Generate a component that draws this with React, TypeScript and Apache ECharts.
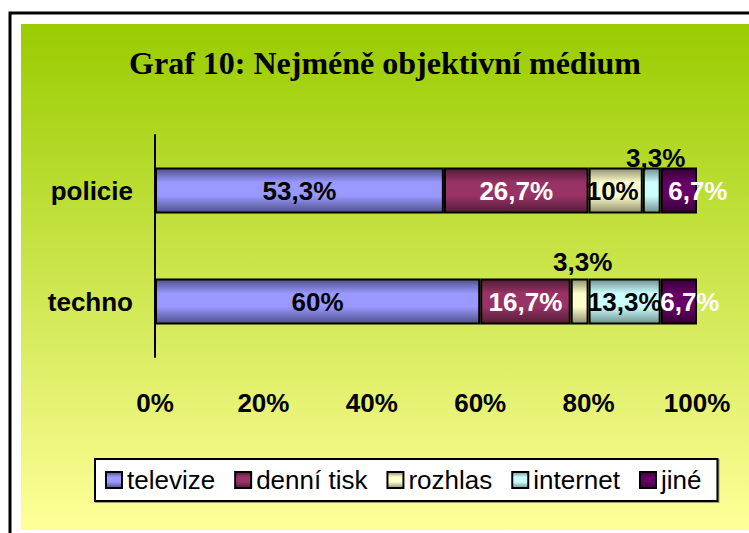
import React, { useEffect, useRef } from 'react';
import * as echarts from 'echarts';

const categories = ['policie', 'techno'];
const seriesNames = ['televize', 'denní tisk', 'rozhlas', 'internet', 'jiné'];
const televize = [53.3, 60];
const denniTisk = [26.7, 16.7];
const rozhlas = [10, 3.3];
const internet = [3.3, 13.3];
const jine = [6.7, 6.7];
const xTicks = [0, 20, 40, 60, 80, 100];
const titleText = 'Graf 10: Nejméně objektivní médium';

const seriesValues = [televize, denniTisk, rozhlas, internet, jine];
const baseColors = ['#9999FF', '#993366', '#FFFFCC', '#CCFFFF', '#660066'];
const edgeColors = ['#50508a', '#521c37', '#8f8f70', '#6f9090', '#360036'];
const labelColors = ['#000', '#fff', '#000', '#000', '#fff'];

const labelTweaks: Record<string, any> = {
  '2-0': { offset: [-3, 0] },
  '3-0': { position: 'top', distance: -3, offset: [4, 0] },
  '2-1': { position: 'top', distance: 4, offset: [3, 0] },
  '4-0': { offset: [19, 0] },
  '4-1': { offset: [11, 0] },
};

const SANS = '"Liberation Sans", Arial, sans-serif';

function fmt(v: number) {
  return String(v).replace('.', ',') + '%';
}

export default function App() {
  const ref = useRef<HTMLDivElement>(null);
  useEffect(() => {
    if (!ref.current) return;
    const chart = echarts.init(ref.current, undefined, { renderer: 'svg' });
    const grad = (i: number) =>
      new echarts.graphic.LinearGradient(0, 0, 0, 1, [
        { offset: 0, color: edgeColors[i] },
        { offset: 0.32, color: baseColors[i] },
        { offset: 0.62, color: baseColors[i] },
        { offset: 1, color: edgeColors[i] },
      ]);
    const option: any = {
      animation: false,
      graphic: [
        {
          type: 'rect',
          silent: true,
          z: -10,
          shape: { x: 10, y: 13, width: 800, height: 600 },
          style: { fill: '#ffffff', stroke: '#000000', lineWidth: 3 },
        },
        {
          type: 'rect',
          silent: true,
          z: -9,
          shape: { x: 21, y: 24, width: 728, height: 506 },
          style: {
            fill: new echarts.graphic.LinearGradient(0, 0, 0, 1, [
              { offset: 0, color: '#99CC00' },
              { offset: 1, color: '#FFFF99' },
            ]),
          },
        },
        {
          type: 'text',
          silent: true,
          x: 385,
          y: 63,
          style: {
            text: titleText,
            textAlign: 'center',
            textVerticalAlign: 'middle',
            font: 'bold 32px "Liberation Serif", "Times New Roman", serif',
            fill: '#000',
          },
        },
      ],
      legend: {
        data: seriesNames,
        left: 95,
        top: 459,
        orient: 'horizontal',
        icon: 'rect',
        itemWidth: 16,
        itemHeight: 16,
        itemGap: 19,
        padding: [8, 16, 8, 10],
        backgroundColor: '#ffffff',
        borderColor: '#000000',
        borderWidth: 2,
        shadowColor: 'rgba(0,0,0,0.35)',
        shadowOffsetX: 1,
        shadowOffsetY: 1,
        shadowBlur: 0,
        selectedMode: false,
        itemStyle: { borderColor: '#000', borderWidth: 2 },
        textStyle: { fontSize: 26, fontFamily: SANS, color: '#000' },
      },
      grid: { left: 155, right: 52, top: 135, height: 222 },
      xAxis: {
        type: 'value',
        min: xTicks[0],
        max: xTicks[xTicks.length - 1],
        interval: xTicks[1] - xTicks[0],
        axisLine: { show: false },
        axisTick: { show: false },
        splitLine: { show: false },
        axisLabel: {
          formatter: '{value}%',
          fontSize: 26,
          fontWeight: 'bold',
          fontFamily: SANS,
          color: '#000',
          margin: 33,
        },
      },
      yAxis: {
        type: 'category',
        data: categories,
        inverse: true,
        axisLine: { show: true, lineStyle: { color: '#000', width: 2 } },
        axisTick: { show: false },
        axisLabel: {
          fontSize: 26,
          fontWeight: 'bold',
          fontFamily: SANS,
          color: '#000',
          margin: 22,
        },
      },
      series: seriesNames.map((name, si) => ({
        type: 'bar',
        name,
        stack: 'total',
        barWidth: 46,
        data: seriesValues[si].map((v, ci) => {
          const t = labelTweaks[`${si}-${ci}`];
          return t ? { value: v, label: t } : { value: v };
        }),
        itemStyle: { color: grad(si), borderColor: '#000', borderWidth: 2 },
        label: {
          show: true,
          position: 'inside',
          formatter: (p: any) => fmt(p.value),
          color: labelColors[si],
          fontSize: 26,
          fontWeight: 'bold',
          fontFamily: SANS,
        },
      })),
    };
    chart.setOption(option);
    return () => chart.dispose();
  }, []);
  return (
    <div
      ref={ref}
      style={{ position: 'absolute', left: 0, top: 0, width: 749, height: 533 }}
    />
  );
}
